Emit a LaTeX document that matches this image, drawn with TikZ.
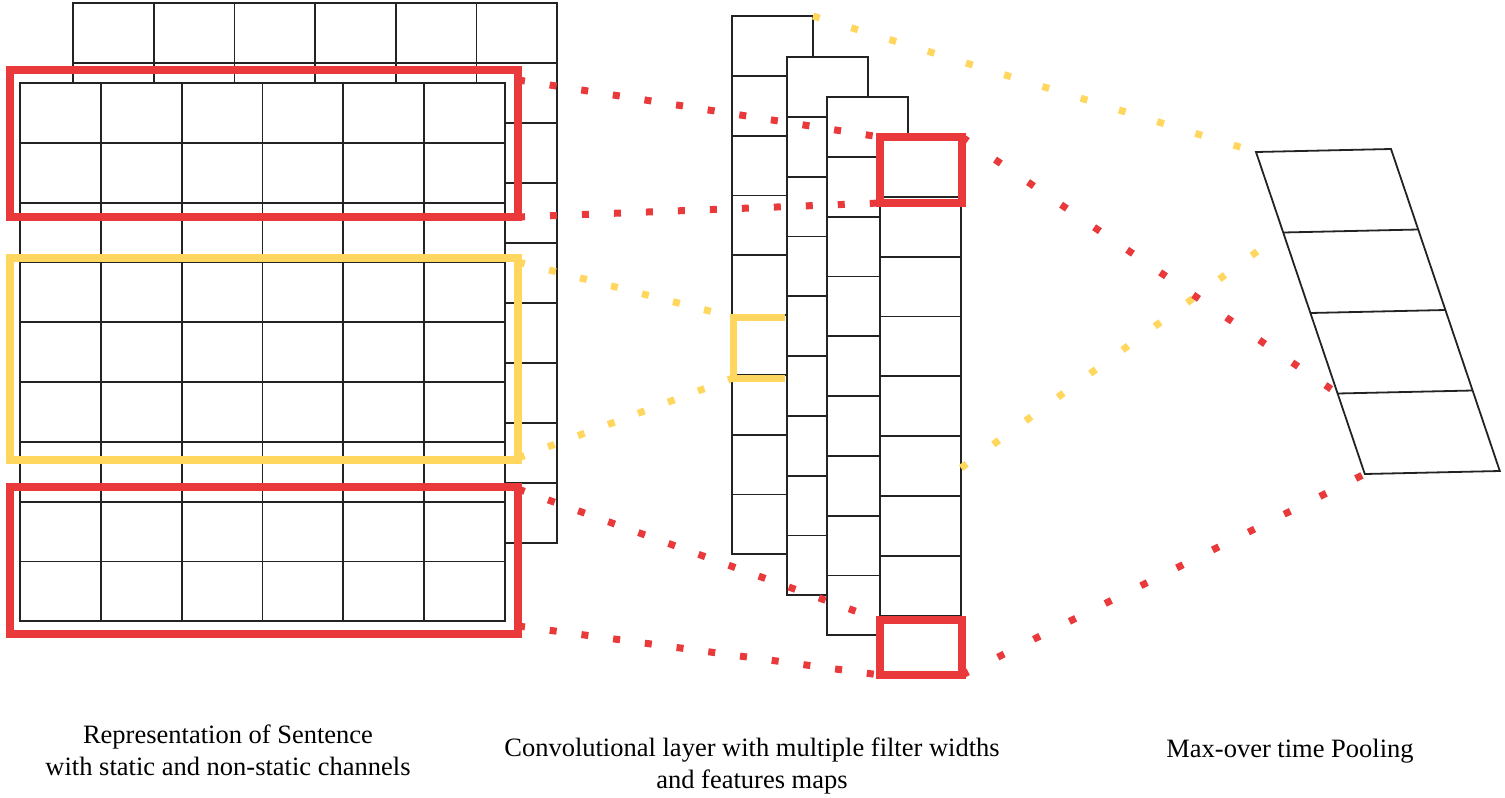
\documentclass[tikz,border=0pt]{standalone}
\usepackage{fontspec}
\setmainfont{Liberation Serif}
\usepackage{xcolor}
\usepackage{tikz}
\definecolor{winred}{RGB}{233,57,58}
\definecolor{winyellow}{RGB}{255,215,95}
\definecolor{gridline}{RGB}{35,35,35}

\begin{document}
\begin{tikzpicture}[
    x=1pt, y=-1pt,
    cell/.style={draw=gridline, line width=1.8pt},
    sheet/.style={cell, fill=white},
    fmap/.style={sheet, rectangle, anchor=north west, inner sep=0pt, outer sep=0pt, minimum width=81pt, minimum height=538pt},
    win/.style={rectangle, anchor=north west, inner sep=0pt, outer sep=0pt, line width=8pt},
    dotlink/.style={line width=7pt, dash pattern=on 7pt off #1},
    dotlink/.default=25pt,
    caption/.style={align=center, anchor=north, inner sep=0pt, font=\fontsize{26.5}{32}\selectfont}
]
    \useasboundingbox (0,0) rectangle (1505,798);

    \draw[sheet] (73,3) rectangle (557,543);
    \foreach \c in {1,...,5} \draw[cell] (73+\c*80.7,3) -- ++(0,540);
    \foreach \r in {1,...,8} \draw[cell] (73,3+\r*60) -- ++(484,0);

    \draw[sheet] (20,83) rectangle (505,621);
    \foreach \c in {1,...,5} \draw[cell] (20+\c*80.8,83) -- ++(0,538);
    \foreach \r in {1,...,8} \draw[cell] (20,83+\r*59.8) -- ++(485,0);

    \node[win, draw=winred, minimum width=508pt, minimum height=147pt] (winTop) at (10,70) {};
    \node[win, draw=winyellow, minimum width=508pt, minimum height=202pt] (winMid) at (10,258) {};
    \node[win, draw=winred, minimum width=508pt, minimum height=147pt] (winBot) at (10,487) {};

    \foreach \n/\x/\y in {A/732/16, B/787/57, C/827/97, D/880/137} {
        \node[fmap] (map\n) at (\x,\y) {};
        \foreach \r in {1,...,8} \draw[cell] (\x,\y+\r*59.8) -- ++(81,0);
    }
    \node[win, minimum width=52pt, minimum height=61pt] (hitMid) at (733,317) {};
    \draw[winyellow, line width=7pt] (hitMid.north east) -- (hitMid.north west) -- (hitMid.south west) -- (hitMid.south east);
    \node[win, draw=winred, minimum width=82pt, minimum height=66pt] (hitTop) at (880,137) {};
    \node[win, draw=winred, minimum width=82pt, minimum height=55pt] (hitBot) at (880,620) {};

    \foreach \i in {0,...,4} {
        \coordinate (p\i) at (1256+27.2*\i,152+80.5*\i);
        \coordinate (q\i) at (1391+27.2*\i,149+80.5*\i);
    }
    \draw[cell] (p0) -- (q0) -- (q4) -- (p4) -- cycle;
    \foreach \i in {1,2,3} \draw[cell] (p\i) -- (q\i);

    \draw[dotlink, winred] ([yshift=-10pt]winTop.north east) -- (hitTop.north west);
    \draw[dotlink, winred] (winTop.south east) -- (hitTop.south west);
    \draw[dotlink, winyellow] ([yshift=-4pt]winMid.north east) -- (hitMid.north west);
    \draw[dotlink, winyellow] ([yshift=2pt]winMid.south east) -- (hitMid.south west);
    \draw[dotlink, winred] ([yshift=-2pt]winBot.north east) -- (hitBot.north west);
    \draw[dotlink, winred] ([yshift=8pt]winBot.south east) -- (hitBot.south west);
    \draw[dotlink=33pt, winyellow] (mapA.north east) -- (p0);
    \draw[dotlink=33pt, winyellow, shorten >=24pt] ([yshift=-62pt]mapD.east) -- (p1);
    \draw[dotlink=33pt, winred] (hitTop.north east) -- (p3);
    \draw[dotlink=33pt, winred] (hitBot.south east) -- (p4);

    \node[caption] (capSent) at (228,725) {Representation of Sentence\\with static and non-static channels};
    \node[caption] (capConv) at (752,738) {Convolutional layer with multiple filter widths\\and features maps};
    \node[caption] (capPool) at (1290,739) {Max-over time Pooling};
\end{tikzpicture}
\end{document}
